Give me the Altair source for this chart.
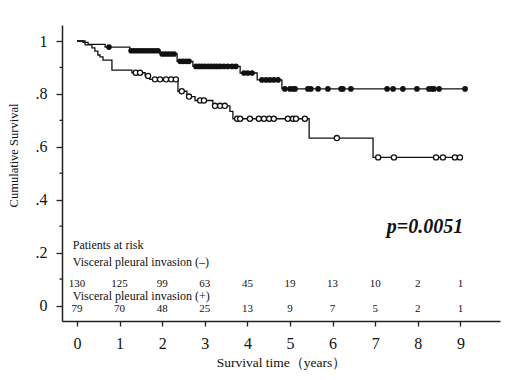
import altair as alt
import pandas as pd
import numpy as np

FONT = "Liberation Serif"

years = list(range(10))
risk_neg = [130, 125, 99, 63, 45, 19, 13, 10, 2, 1]
risk_pos = [79, 70, 48, 25, 13, 9, 7, 5, 2, 1]

# Visceral pleural invasion (-) : step times and survival after each step
neg_t = [0, 0.14, 0.26, 0.66, 1.24, 1.95, 2.35, 2.72, 3.83, 4.23, 4.81, 9.11]
neg_s = [1.0, 0.995, 0.987, 0.977, 0.963, 0.951, 0.923, 0.904, 0.879, 0.853, 0.819, 0.819]
neg_c = [0.75, 1.27, 1.34, 1.41, 1.48, 1.55, 1.62, 1.69, 1.76, 1.83, 1.90,
         2.0, 2.07, 2.14, 2.21, 2.28, 2.42, 2.49, 2.56, 2.63,
         2.79, 2.86, 2.93, 3.0, 3.08, 3.15, 3.22, 3.29, 3.36, 3.45, 3.54, 3.64, 3.73,
         3.92, 4.01, 4.11, 4.34, 4.44, 4.53, 4.62, 4.72,
         4.88, 5.0, 5.07, 5.12, 5.42, 5.49, 5.66, 5.89, 6.2, 6.24, 6.43,
         7.28, 7.42, 7.65, 7.98, 8.26, 8.33, 8.38, 8.5, 9.11]

# Visceral pleural invasion (+)
pos_t = [0, 0.19, 0.35, 0.42, 0.49, 0.54, 0.61, 0.82, 1.29, 1.6, 1.71, 2.37, 2.58,
         2.77, 3.19, 3.59, 3.66, 5.45, 6.95, 9.02]
pos_s = [1.0, 0.985, 0.974, 0.962, 0.947, 0.94, 0.928, 0.89, 0.88, 0.868, 0.855, 0.81,
         0.79, 0.775, 0.755, 0.734, 0.706, 0.633, 0.56, 0.56]
pos_c = [1.38, 1.48, 1.67, 1.83, 1.95, 2.09, 2.21, 2.32, 2.46, 2.63, 2.89, 2.98,
         3.24, 3.36, 3.47, 3.76, 3.83, 4.06, 4.27, 4.39, 4.51, 4.62, 4.95, 5.07,
         5.14, 5.35, 6.1, 7.07, 7.44, 8.43, 8.59, 8.87, 8.99]

y_major = [0, 0.2, 0.4, 0.6, 0.8, 1.0]
y_minor = [0.1, 0.3, 0.5, 0.7, 0.9]


def censor_y(t, s, c):
    idx = np.searchsorted(np.array(t), np.array(c), side="right") - 1
    return [s[i] for i in idx]


lines = pd.concat([
    pd.DataFrame({"t": neg_t, "s": neg_s, "g": "neg"}),
    pd.DataFrame({"t": pos_t, "s": pos_s, "g": "pos"}),
])
cens_neg = pd.DataFrame({"t": neg_c, "s": censor_y(neg_t, neg_s, neg_c)})
cens_pos = pd.DataFrame({"t": pos_c, "s": censor_y(pos_t, pos_s, pos_c)})

xs = alt.Scale(domain=[-0.352, 9.93], nice=False, zero=False)
ys = alt.Scale(domain=[-0.0586, 1.0605], nice=False, zero=False)

x_axis = alt.Axis(values=years, title="Survival time（years）", grid=False,
                  labelFont=FONT, labelFontSize=16, labelColor="#111",
                  labelPadding=9, tickSize=5, tickColor="#222", tickWidth=1.3,
                  domainColor="#222", domainWidth=1.5,
                  titleFont=FONT, titleFontSize=13.5, titleFontWeight="normal",
                  titleColor="#111", titlePadding=4)
y_axis = alt.Axis(values=y_major, title="Cumulative Survival", grid=False,
                  labelExpr="datum.value == 0 ? '0' : datum.value == 1 ? '1' : '.' + round(datum.value*10)",
                  labelFont=FONT, labelFontSize=16, labelColor="#111",
                  labelPadding=9, tickSize=6, tickColor="#222", tickWidth=1.3,
                  domainColor="#222", domainWidth=1.5,
                  titleFont=FONT, titleFontSize=12.5, titleFontWeight="normal",
                  titleColor="#111", titleX=-49, titleY=130, titleBaseline="middle",
                  titleAlign="center", titleAngle=270)

base_line = alt.Chart(lines).mark_line(interpolate="step-after", color="#111",
                                       strokeWidth=1.3).encode(
    x=alt.X("t:Q", scale=xs, axis=x_axis),
    y=alt.Y("s:Q", scale=ys, axis=y_axis),
    detail="g:N",
)

pts_neg = alt.Chart(cens_neg).mark_point(shape="circle", filled=True, size=32,
                                         color="#111", opacity=1).encode(
    x=alt.X("t:Q", scale=xs), y=alt.Y("s:Q", scale=ys))
pts_pos = alt.Chart(cens_pos).mark_point(shape="circle", filled=True, size=26,
                                         fill="white", stroke="#111",
                                         strokeWidth=1.3, opacity=1).encode(
    x=alt.X("t:Q", scale=xs), y=alt.Y("s:Q", scale=ys))

minor = alt.Chart(pd.DataFrame({"v": y_minor})).mark_rule(
    color="#222", strokeWidth=1.3).encode(
    y=alt.Y("v:Q", scale=ys), x=alt.value(-2.5), x2=alt.value(0))

risk_df = pd.DataFrame({"t": years, "neg": risk_neg, "pos": risk_pos})
row1 = alt.Chart(risk_df).mark_text(font=FONT, fontSize=11, color="#111",
                                    baseline="alphabetic").encode(
    x=alt.X("t:Q", scale=xs), y=alt.datum(0.07, scale=ys), text="neg:Q")
row2 = alt.Chart(risk_df).mark_text(font=FONT, fontSize=11, color="#111",
                                    baseline="alphabetic").encode(
    x=alt.X("t:Q", scale=xs), y=alt.datum(-0.024, scale=ys), text="pos:Q")

labels_df = pd.DataFrame({
    "t": [-0.1, -0.1, -0.1],
    "s": [0.213, 0.151, 0.022],
    "txt": ["Patients at risk", "Visceral pleural  invasion (\u2013)",
            "Visceral pleural  invasion (+)"],
})
labels = alt.Chart(labels_df).mark_text(font=FONT, fontSize=12, color="#111",
                                        align="left", baseline="alphabetic").encode(
    x=alt.X("t:Q", scale=xs), y=alt.Y("s:Q", scale=ys), text="txt:N")

p_df = pd.DataFrame({"t": [8.17], "s": [0.274], "txt": ["p=0.0051"]})
ptext = alt.Chart(p_df).mark_text(font=FONT, fontSize=20, fontWeight="bold",
                                  fontStyle="italic", color="#111",
                                  align="center", baseline="alphabetic").encode(
    x=alt.X("t:Q", scale=xs), y=alt.Y("s:Q", scale=ys), text="txt:N")

chart = alt.layer(base_line, pts_neg, pts_pos, minor, row1, row2, labels, ptext).properties(
    width=438, height=296,
    padding={"left": 54, "top": 17, "right": 13, "bottom": 51},
    autosize=alt.AutoSizeParams(type="none"),
    background="white",
).configure_view(stroke=None)

chart.save("out.html", embed_options={"renderer": "svg", "actions": False})
